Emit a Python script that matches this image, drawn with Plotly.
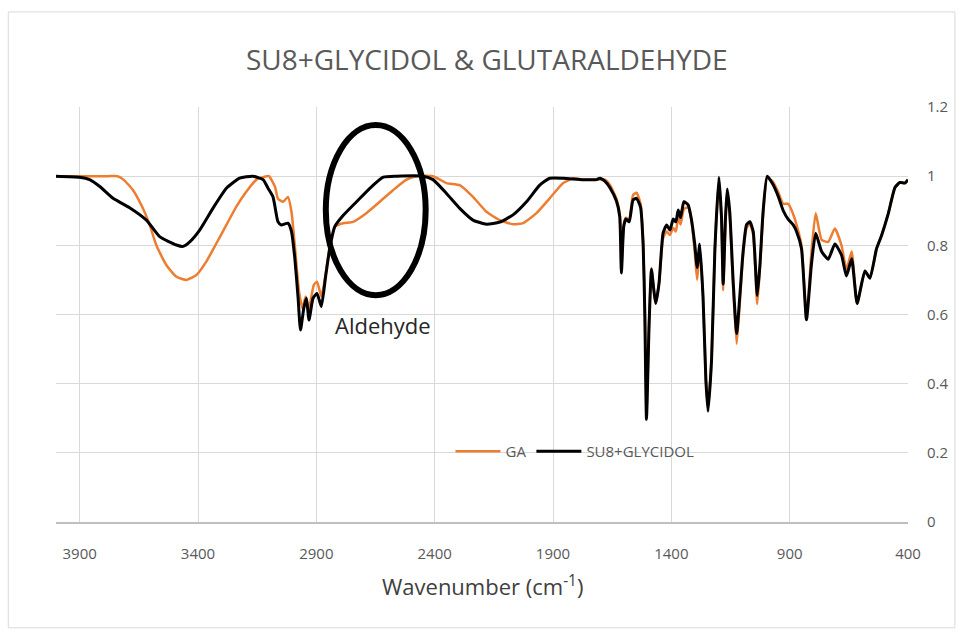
import plotly.graph_objects as go

# ---- data ----
su8_wn = [4000, 3900, 3858, 3815, 3759, 3689, 3618, 3562, 3491, 3463, 3435, 3393, 3337, 3280, 3224, 3168,
          3125, 3104, 3083, 3076, 3062, 3048, 3020, 3005, 2991, 2977, 2967, 2953, 2942, 2931, 2914, 2897,
          2879, 2860, 2843, 2822, 2787, 2730, 2674, 2617, 2561, 2449, 2407, 2350, 2294, 2238, 2181, 2125,
          2069, 2012, 1956, 1914, 1857, 1773, 1716, 1702, 1680, 1660, 1632, 1618, 1611, 1601, 1592, 1578,
          1562, 1547, 1530, 1519, 1512, 1505, 1494, 1484, 1474, 1466, 1452, 1435, 1420, 1406, 1392, 1381,
          1371, 1361, 1347, 1329, 1315, 1301, 1291, 1280, 1266, 1254, 1245, 1230, 1216, 1199, 1188, 1181,
          1171, 1164, 1153, 1139, 1124, 1110, 1097, 1082, 1068, 1054, 1037, 1026, 1012, 995, 972, 949,
          927, 906, 885, 871, 850, 829, 808, 790, 765, 737, 709, 681, 660, 638, 615, 582, 561, 533, 512,
          484, 455, 434, 413, 400]
su8_t = [1.0, 0.997, 0.99, 0.97, 0.936, 0.909, 0.873, 0.825, 0.801, 0.797, 0.81, 0.844, 0.907, 0.965, 0.994, 1.0,
         0.99, 0.965, 0.94, 0.917, 0.868, 0.859, 0.864, 0.84, 0.763, 0.647, 0.555, 0.618, 0.647, 0.584, 0.647, 0.661,
         0.623, 0.714, 0.792, 0.854, 0.886, 0.926, 0.965, 0.997, 1.0, 1.0, 0.99, 0.95, 0.907, 0.873, 0.861, 0.867,
         0.888, 0.926, 0.974, 0.994, 0.994, 0.99, 0.99, 0.994, 0.985, 0.967, 0.928, 0.883, 0.72, 0.855, 0.876, 0.868,
         0.931, 0.936, 0.91, 0.80, 0.60, 0.297, 0.57, 0.731, 0.671, 0.632, 0.69, 0.835, 0.859, 0.844, 0.876, 0.868,
         0.902, 0.88, 0.926, 0.917, 0.875, 0.803, 0.736, 0.803, 0.65, 0.41, 0.32, 0.47, 0.787, 0.997, 0.88, 0.688,
         0.882, 0.963, 0.895, 0.70, 0.545, 0.66, 0.78, 0.86, 0.868, 0.84, 0.655, 0.74, 0.90, 1.0, 0.978, 0.943,
         0.90, 0.875, 0.859, 0.84, 0.79, 0.585, 0.745, 0.835, 0.782, 0.76, 0.804, 0.772, 0.711, 0.761, 0.632, 0.726,
         0.705, 0.79, 0.828, 0.89, 0.967, 0.982, 0.98, 0.99]

ga_wn = [4000, 3900, 3780, 3740, 3715, 3675, 3633, 3604, 3576, 3534, 3491, 3449, 3407, 3365, 3322, 3280,
         3238, 3196, 3153, 3111, 3100, 3075, 3062, 3040, 3020, 3005, 2991, 2973, 2959, 2945, 2931, 2911,
         2897, 2879, 2860, 2843, 2822, 2787, 2745, 2689, 2632, 2575, 2519, 2477, 2407, 2350, 2294, 2238,
         2181, 2125, 2069, 2026, 1970, 1914, 1857, 1815, 1773, 1716, 1680, 1660, 1632, 1618, 1611, 1601,
         1592, 1578, 1562, 1547, 1530, 1519, 1512, 1505, 1494, 1484, 1474, 1466, 1452, 1435, 1420, 1406,
         1392, 1381, 1371, 1361, 1347, 1329, 1315, 1301, 1291, 1280, 1266, 1254, 1245, 1230, 1216, 1199,
         1188, 1181, 1171, 1164, 1153, 1139, 1124, 1110, 1097, 1082, 1068, 1054, 1037, 1026, 1012, 995,
         972, 949, 927, 906, 885, 871, 850, 829, 808, 790, 765, 737, 709, 681, 660, 638, 615, 582, 561,
         533, 512, 484, 455, 434, 413, 400]
ga_t = [1.0, 1.0, 1.0, 1.0, 0.99, 0.96, 0.907, 0.859, 0.80, 0.743, 0.709, 0.70, 0.714, 0.753, 0.806, 0.859,
        0.912, 0.955, 0.99, 1.0, 1.0, 0.97, 0.935, 0.926, 0.94, 0.897, 0.80, 0.666, 0.618, 0.652, 0.618, 0.685,
        0.695, 0.652, 0.72, 0.80, 0.854, 0.864, 0.868, 0.893, 0.926, 0.96, 0.99, 1.0, 1.0, 0.98, 0.974, 0.94,
        0.897, 0.873, 0.861, 0.864, 0.893, 0.936, 0.98, 0.994, 0.99, 0.99, 0.99, 0.975, 0.935, 0.89, 0.73, 0.86,
        0.88, 0.875, 0.945, 0.952, 0.92, 0.81, 0.61, 0.31, 0.58, 0.735, 0.672, 0.632, 0.69, 0.82, 0.84, 0.83,
        0.85, 0.84, 0.88, 0.86, 0.905, 0.91, 0.87, 0.78, 0.70, 0.79, 0.65, 0.41, 0.33, 0.47, 0.787, 0.99,
        0.87, 0.67, 0.875, 0.955, 0.88, 0.68, 0.515, 0.64, 0.77, 0.85, 0.862, 0.83, 0.63, 0.73, 0.89, 0.995,
        0.985, 0.955, 0.92, 0.92, 0.89, 0.86, 0.80, 0.59, 0.78, 0.893, 0.816, 0.81, 0.849, 0.80, 0.73, 0.782,
        0.632, 0.726, 0.705, 0.79, 0.828, 0.89, 0.967, 0.982, 0.98, 0.99]

x_ticks = [3900, 3400, 2900, 2400, 1900, 1400, 900, 400]
y_ticks = [0, 0.2, 0.4, 0.6, 0.8, 1, 1.2]
y_tick_labels = ["0", "0.2", "0.4", "0.6", "0.8", "1", "1.2"]

title_text = "SU8+GLYCIDOL & GLUTARALDEHYDE"
x_title = "Wavenumber (cm<sup>-1</sup>)"
note_text = "Aldehyde"

FONT = "Open Sans, sans-serif"

fig = go.Figure()
fig.add_trace(go.Scatter(x=ga_wn, y=ga_t, mode="lines", name="GA",
                         line=dict(color="#ED7D31", width=2.5, shape="spline", smoothing=0.5)))
fig.add_trace(go.Scatter(x=su8_wn, y=su8_t, mode="lines", name="SU8+GLYCIDOL",
                         line=dict(color="#000000", width=3, shape="spline", smoothing=0.5)))

fig.update_layout(
    width=960, height=634,
    margin=dict(l=56, r=52, t=107, b=112),
    paper_bgcolor="white", plot_bgcolor="white",
    font=dict(family=FONT, color="#595959", size=14),
    title=dict(text=title_text, x=0.507, xanchor="center", y=0.905, yanchor="middle",
               font=dict(family=FONT, size=28, color="#595959")),
    showlegend=True,
    legend=dict(orientation="h", x=0.463, xanchor="left", y=0.17, yanchor="middle",
                bgcolor="rgba(0,0,0,0)", font=dict(size=15, color="#595959"),
                itemwidth=45, tracegroupgap=0),
    xaxis=dict(range=[4000, 400], tickvals=x_ticks, ticktext=[str(v) for v in x_ticks],
               showgrid=True, gridcolor="#d9d9d9", gridwidth=1,
               showline=True, linecolor="#bfbfbf", linewidth=1.5, zeroline=False,
               ticks="", ticklabelstandoff=17, tickfont=dict(size=15, color="#595959")),
    yaxis=dict(range=[0, 1.2], tickvals=y_ticks, ticktext=y_tick_labels, side="right",
               showgrid=True, gridcolor="#d9d9d9", gridwidth=1, zeroline=False, showline=False,
               ticks="", ticklabelstandoff=18, tickfont=dict(size=15, color="#595959")),
)

fig.add_annotation(text=x_title, xref="paper", yref="paper", x=0.5, y=-0.152,
                   xanchor="center", yanchor="middle", showarrow=False,
                   font=dict(family=FONT, size=22, color="#404040"))
fig.add_annotation(text=note_text, x=2619, y=0.57, xref="x", yref="y", showarrow=False,
                   xanchor="center", yanchor="middle",
                   font=dict(family=FONT, size=22, color="#262626"))

# ellipse highlighting the aldehyde band
fig.add_shape(type="circle", xref="x", yref="y", x0=2860, x1=2438, y0=0.656, y1=1.148,
              line=dict(color="black", width=6), fillcolor="rgba(0,0,0,0)")
# outer chart border
fig.add_shape(type="rect", xref="paper", yref="paper", x0=-0.056, x1=1.055, y0=-0.255, y1=1.229,
              line=dict(color="#d9d9d9", width=1), layer="below")

fig.write_html("out.html")
